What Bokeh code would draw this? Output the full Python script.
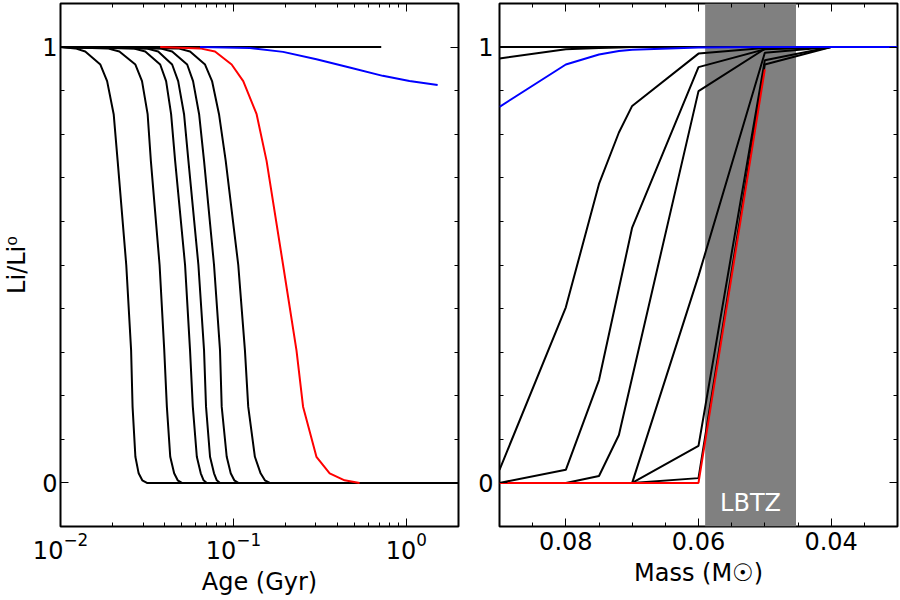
from bokeh.plotting import figure
from bokeh.layouts import row
from bokeh.models import Range1d, FixedTicker, LinearAxis, BoxAnnotation, Label
from bokeh.embed import file_html
from bokeh.resources import INLINE

# ---------------- Left panel: Li/Li0 versus age (Gyr) ----------------
li_levels = [1.0, 0.997, 0.99, 0.96, 0.922, 0.846, 0.739, 0.5, 0.304, 0.175, 0.06, 0.022, 0.006, 0.0, 0.0]

age_k1 = [0.0100, 0.0122, 0.0139, 0.0170, 0.0186, 0.0203, 0.0214, 0.0240, 0.0256, 0.0261, 0.0271, 0.0283, 0.0297, 0.0316, 2.0]
age_k2 = [0.0100, 0.0187, 0.0219, 0.0271, 0.0296, 0.0319, 0.0333, 0.0374, 0.0398, 0.0412, 0.0431, 0.0454, 0.0476, 0.0503, 2.0]
age_k3 = [0.0100, 0.0263, 0.0309, 0.0377, 0.0408, 0.0436, 0.0460, 0.0525, 0.0561, 0.0582, 0.0614, 0.0647, 0.0672, 0.0701, 2.0]
age_k4 = [0.0100, 0.0313, 0.0367, 0.0442, 0.0479, 0.0518, 0.0549, 0.0627, 0.0676, 0.0694, 0.0732, 0.0772, 0.0801, 0.0836, 2.0]
age_k5 = [0.0100, 0.0377, 0.0442, 0.0540, 0.0584, 0.0633, 0.0676, 0.0772, 0.0836, 0.0855, 0.0914, 0.0964, 0.1011, 0.1066, 2.0]
age_k6 = [0.0100, 0.0479, 0.0561, 0.0685, 0.0752, 0.0825, 0.0902, 0.1066, 0.1165, 0.1217, 0.1330, 0.1435, 0.1519, 0.1623, 2.0]

age_red = [0.0377, 0.0641, 0.0782, 0.0976, 0.1139, 0.1361, 0.1554, 0.1936, 0.2314, 0.2526, 0.3018, 0.3599, 0.439, 0.5359]
li_red = [1.0, 0.997, 0.99, 0.96, 0.922, 0.846, 0.739, 0.5, 0.304, 0.175, 0.06, 0.022, 0.006, 0.0]

age_blue = [0.0641, 0.1245, 0.1936, 0.3018, 0.4695, 0.7301, 1.041, 1.515]
li_blue = [1.0, 0.998, 0.989, 0.972, 0.953, 0.934, 0.922, 0.913]

age_flat = [0.01, 0.715]
li_flat = [1.0, 1.0]

# ---------------- Right panel: Li/Li0 versus mass (Msun) ----------------
mass = [0.09, 0.08, 0.075, 0.072, 0.07, 0.06, 0.05, 0.04, 0.03]
li_m1 = [1.0, 1.0, 1.0, 1.0, 1.0, 1.0, 1.0, 1.0, 1.0]
li_m2 = [0.974, 0.995, 0.998, 0.999, 1.0, 1.0, 1.0, 1.0, 1.0]
li_m4 = [0.03, 0.403, 0.686, 0.804, 0.865, 0.985, 0.998, 1.0, 1.0]
li_m5 = [0.0, 0.03, 0.236, 0.446, 0.586, 0.954, 0.995, 1.0, 1.0]
li_m6 = [0.0, 0.0, 0.016, 0.11, 0.242, 0.899, 0.996, 1.0, 1.0]
li_m7 = [0.0, 0.0, 0.0, 0.0, 0.0, 0.475, 0.987, 1.0, 1.0]
li_m8 = [0.0, 0.0, 0.0, 0.0, 0.0, 0.085, 0.970, 1.0, 1.0]
li_m9 = [0.0, 0.0, 0.0, 0.0, 0.0, 0.011, 0.960, 1.0, 1.0]
mass_red = [0.09, 0.08, 0.075, 0.072, 0.07, 0.06, 0.05]
li_mred = [0.0, 0.0, 0.0, 0.0, 0.0, 0.0, 0.949]
li_mblue = [0.863, 0.960, 0.983, 0.991, 0.994, 0.999, 1.0, 1.0, 1.0]

lbtz_band = [0.059, 0.0453]

y_major = [0, 1]
y_minor = [-0.1, 0.1, 0.2, 0.3, 0.4, 0.5, 0.6, 0.7, 0.8, 0.9, 1.1]
age_major = [0.01, 0.1, 1.0]
age_minor = [0.02, 0.03, 0.04, 0.05, 0.06, 0.07, 0.08, 0.09,
             0.2, 0.3, 0.4, 0.5, 0.6, 0.7, 0.8, 0.9, 2.0]
mass_major = [0.08, 0.06, 0.04]
mass_minor = [0.085, 0.075, 0.07, 0.065, 0.055, 0.05, 0.045, 0.035]

FONT = "DejaVu Sans"
FS = "24px"


def style_axis(ax, labels=True):
    ax.major_tick_in = 8
    ax.major_tick_out = 0
    ax.minor_tick_in = 4
    ax.minor_tick_out = 0
    ax.major_tick_line_color = "black"
    ax.minor_tick_line_color = "black"
    ax.axis_line_color = None
    ax.major_label_text_font = FONT
    ax.major_label_text_color = "black"
    ax.axis_label_text_font = FONT
    ax.axis_label_text_font_style = "normal"
    ax.axis_label_text_font_size = FS
    ax.axis_label_text_color = "black"
    if labels:
        ax.major_label_text_font_size = FS
    else:
        ax.major_label_text_font_size = "1px"
        ax.major_label_text_alpha = 0
        ax.major_label_standoff = 0


def base_fig(width, border_left, border_right, x_type, x_range):
    p = figure(width=width, height=600, x_axis_type=x_type, x_range=x_range,
               y_range=Range1d(-0.1, 1.1), output_backend="svg", toolbar_location=None,
               min_border_left=border_left, min_border_right=border_right,
               min_border_top=3, min_border_bottom=74)
    p.xgrid.visible = False
    p.ygrid.visible = False
    p.outline_line_color = "black"
    p.outline_line_width = 2
    p.background_fill_color = "white"
    p.border_fill_color = "white"
    return p


# ---------- left figure ----------
pl = base_fig(460, 60, 2, "log", Range1d(0.01, 2.0))
pl.xaxis[0].ticker = FixedTicker(ticks=age_major, minor_ticks=age_minor)
pl.yaxis[0].ticker = FixedTicker(ticks=y_major, minor_ticks=y_minor)
style_axis(pl.xaxis[0])
style_axis(pl.yaxis[0])
pl.xaxis[0].axis_label = "Age (Gyr)"
pl.xaxis[0].major_label_standoff = 5
pl.xaxis[0].axis_label_standoff = 6
pl.yaxis[0].axis_label = "Li/Li⁰"
pl.yaxis[0].major_label_standoff = 3
pl.yaxis[0].axis_label_standoff = 8
top_l = LinearAxis(ticker=FixedTicker(ticks=age_major, minor_ticks=age_minor))
right_l = LinearAxis(ticker=FixedTicker(ticks=y_major, minor_ticks=y_minor))
style_axis(top_l, labels=False)
style_axis(right_l, labels=False)
pl.add_layout(top_l, "above")
pl.add_layout(right_l, "right")

pl.line(age_flat, li_flat, line_color="black", line_width=2)
for a in [age_k1, age_k2, age_k3, age_k4, age_k5, age_k6]:
    pl.line(a, li_levels, line_color="black", line_width=2)
pl.line(age_red, li_red, line_color="red", line_width=2)
pl.line(age_blue, li_blue, line_color="blue", line_width=2)

# ---------- right figure ----------
pr = base_fig(440, 39, 3, "linear", Range1d(0.09, 0.03))
pr.xaxis[0].ticker = FixedTicker(ticks=mass_major, minor_ticks=mass_minor)
pr.yaxis[0].ticker = FixedTicker(ticks=y_major, minor_ticks=y_minor)
style_axis(pr.xaxis[0])
style_axis(pr.yaxis[0])
pr.xaxis[0].axis_label = "Mass (M☉)"
pr.xaxis[0].major_label_standoff = 5
pr.xaxis[0].axis_label_standoff = 6
pr.yaxis[0].major_label_standoff = 6
top_r = LinearAxis(ticker=FixedTicker(ticks=mass_major, minor_ticks=mass_minor))
right_r = LinearAxis(ticker=FixedTicker(ticks=y_major, minor_ticks=y_minor))
style_axis(top_r, labels=False)
style_axis(right_r, labels=False)
pr.add_layout(top_r, "above")
pr.add_layout(right_r, "right")

pr.add_layout(BoxAnnotation(left=min(lbtz_band), right=max(lbtz_band),
                            fill_color="#808080", fill_alpha=1.0, line_color=None,
                            level="underlay"))
pr.add_layout(Label(x=sum(lbtz_band) / 2, y=-0.045, text="LBTZ", text_color="white",
                    text_align="center", text_baseline="middle",
                    text_font=FONT, text_font_size=FS))

for v in [li_m1, li_m2, li_m4, li_m5, li_m6, li_m7, li_m8, li_m9]:
    pr.line(mass, v, line_color="black", line_width=2)
pr.line(mass_red, li_mred, line_color="red", line_width=2)
pr.line(mass, li_mblue, line_color="blue", line_width=2)

layout = row(pl, pr)
open("out.html", "w").write(file_html(layout, INLINE))
